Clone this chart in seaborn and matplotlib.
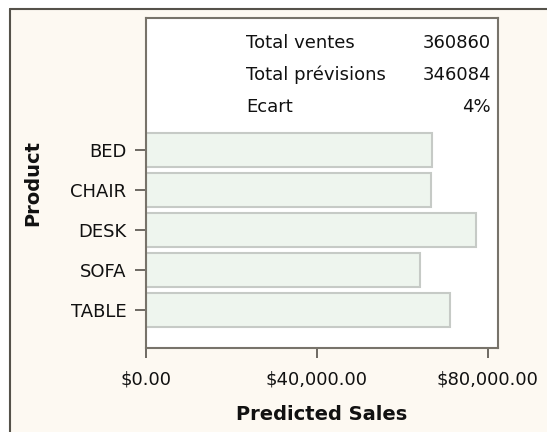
import matplotlib
matplotlib.use("Agg")
import matplotlib.pyplot as plt
from matplotlib.lines import Line2D
from matplotlib.patches import Rectangle
from matplotlib.ticker import FuncFormatter
import seaborn as sns
import pandas as pd

products = ["BED", "CHAIR", "DESK", "SOFA", "TABLE"]
predicted_sales = [67000, 66600, 77300, 64100, 71084]
summary_labels = ["Total ventes", "Total prévisions", "Ecart"]
summary_values = ["360860", "346084", "4%"]
x_ticks = [0, 40000, 80000]

sns.set_theme(style="white")
plt.rcParams['font.family'] = ['DejaVu Sans']

W, H = 547, 432
fig = plt.figure(figsize=(W / 100, H / 100), dpi=100, facecolor="white")

# cream panel with top/left border
bg = "#FDF9F2"
fig.add_artist(Rectangle((9.5 / W, 0), 1, 1 - 8.5 / H, transform=fig.transFigure,
                         facecolor=bg, edgecolor="none", zorder=0))
fig.add_artist(Line2D([9.5 / W, 1], [1 - 8.5 / H, 1 - 8.5 / H], transform=fig.transFigure,
                      color="#55524A", lw=1.5))
fig.add_artist(Line2D([9.5 / W, 9.5 / W], [0, 1 - 8.5 / H], transform=fig.transFigure,
                      color="#55524A", lw=1.5))

left, right, top, bottom = 146, 498, 18, 348
ax = fig.add_axes([left / W, 1 - bottom / H, (right - left) / W, (bottom - top) / H])
ax.set_facecolor("white")

df = pd.DataFrame({"Product": products, "Predicted Sales": predicted_sales})
sns.barplot(data=df, x="Predicted Sales", y="Product", orient="h", ax=ax,
            color="#EEF5EE", edgecolor="#C6CAC6", linewidth=1.5, width=0.85,
            saturation=1)

ax.set_xlim(0, 82400)
ax.set_ylim(4.95, -3.3)
ax.set_xticks(x_ticks)
ax.xaxis.set_major_formatter(FuncFormatter(lambda v, p: "${:,.2f}".format(v)))

for s in ax.spines.values():
    s.set_color("#77736A")
    s.set_linewidth(1.5)

ax.tick_params(axis="x", length=7, width=1.2, color="#55524A", pad=9,
               labelsize=13, labelcolor="#111111", bottom=True)
ax.tick_params(axis="y", length=8, width=1.2, color="#55524A", pad=6,
               labelsize=13, labelcolor="#111111", left=True)

ax.set_xlabel("Predicted Sales", fontsize=14, fontweight="bold", color="#111111", labelpad=12)
ax.set_ylabel("Product", fontsize=14, fontweight="bold", color="#111111", labelpad=20)

# summary table in upper area
ys = [43, 75, 107]
for lab, val, yp in zip(summary_labels, summary_values, ys):
    fig.text(246.5 / W, 1 - yp / H, lab, ha="left", va="center", fontsize=13, color="#111111")
    fig.text(491 / W, 1 - yp / H, val, ha="right", va="center", fontsize=13, color="#111111")

fig.savefig("out.png", dpi=100, facecolor=fig.get_facecolor())
